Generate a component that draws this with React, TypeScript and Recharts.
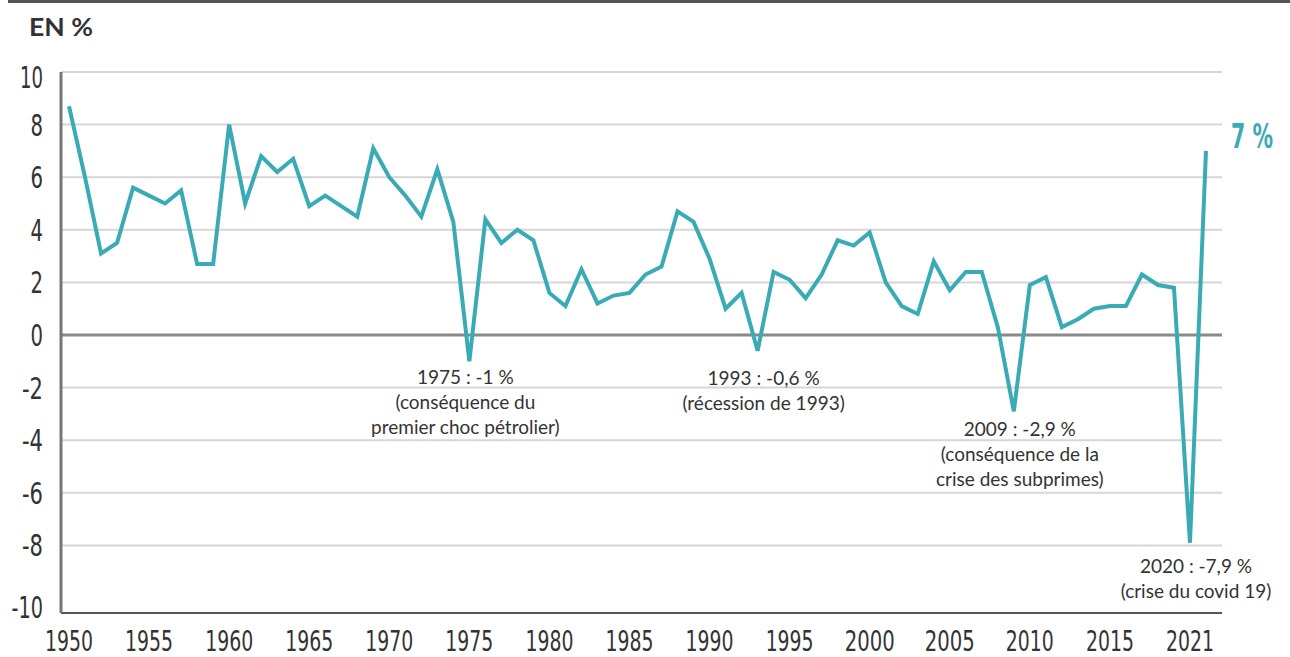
import React from 'react';
import { LineChart, Line, XAxis, YAxis, CartesianGrid, ReferenceLine, ReferenceDot } from 'recharts';

const years: number[] = [
  1950, 1951, 1952, 1953, 1954, 1955, 1956, 1957, 1958, 1959,
  1960, 1961, 1962, 1963, 1964, 1965, 1966, 1967, 1968, 1969,
  1970, 1971, 1972, 1973, 1974, 1975, 1976, 1977, 1978, 1979,
  1980, 1981, 1982, 1983, 1984, 1985, 1986, 1987, 1988, 1989,
  1990, 1991, 1992, 1993, 1994, 1995, 1996, 1997, 1998, 1999,
  2000, 2001, 2002, 2003, 2004, 2005, 2006, 2007, 2008, 2009,
  2010, 2011, 2012, 2013, 2014, 2015, 2016, 2017, 2018, 2019,
  2020, 2021,
];

const growth: number[] = [
  8.7, 6.0, 3.1, 3.5, 5.6, 5.3, 5.0, 5.5, 2.7, 2.7,
  8.0, 5.0, 6.8, 6.2, 6.7, 4.9, 5.3, 4.9, 4.5, 7.1,
  6.0, 5.3, 4.5, 6.3, 4.3, -1.0, 4.4, 3.5, 4.0, 3.6,
  1.6, 1.1, 2.5, 1.2, 1.5, 1.6, 2.3, 2.6, 4.7, 4.3,
  2.9, 1.0, 1.6, -0.6, 2.4, 2.1, 1.4, 2.3, 3.6, 3.4,
  3.9, 2.0, 1.1, 0.8, 2.8, 1.7, 2.4, 2.4, 0.3, -2.9,
  1.9, 2.2, 0.3, 0.6, 1.0, 1.1, 1.1, 2.3, 1.9, 1.8,
  -7.9, 7.0,
];

const xTicks: number[] = [1950, 1955, 1960, 1965, 1970, 1975, 1980, 1985, 1990, 1995, 2000, 2005, 2010, 2015, 2021];
const Y_MAX = 10;
const Y_MIN = -10.57;
const yTicks: number[] = [10, 8, 6, 4, 2, 0, -2, -4, -6, -8, Y_MIN];
const yTickLabels: string[] = ['10', '8', '6', '4', '2', '0', '-2', '-4', '-6', '-8', '-10'];

const lastYear = 2021;
const lastValue = 7.0;
const lastLabel = '7 %';

const annYears: number[] = [1975, 1993, 2009, 2020];
const annValues: number[] = [-1, -0.6, -2.9, -7.9];
const annTexts: string[][] = [
  ['1975 : -1 %', '(conséquence du', 'premier choc pétrolier)'],
  ['1993 : -0,6 %', '(récession de 1993)'],
  ['2009 : -2,9 %', '(conséquence de la', 'crise des subprimes)'],
  ['2020 : -7,9 %', '(crise du covid 19)'],
];
// layout offsets (px) of each annotation block relative to its point
const annOffsets: { dx: number; dy: number }[] = [
  { dx: -4, dy: 23 },
  { dx: 6, dy: 34 },
  { dx: 6, dy: 25 },
  { dx: 6, dy: 30 },
];

const data = years.map((y, i) => ({ year: y, v: growth[i] }));

const TEAL = '#3aabb5';
const TEXT = '#333333';
const TICK_FONT = "'Liberation Sans Narrow', 'DejaVu Sans Condensed', 'DejaVu Sans', sans-serif";
const ANN_FONT = "Lato, 'Noto Sans', sans-serif";

const labelWidth = (s: string) => {
  let w = 0;
  for (const c of s) {
    if (c === '1') w += 10.5;
    else if (c === '-') w += 8.5;
    else w += 12.5;
  }
  return w;
};

const YTick = (props: any) => {
  const { y, payload, index } = props;
  const v = payload.value;
  const i = yTicks.indexOf(v);
  const label = i >= 0 ? yTickLabels[i] : String(v);
  let dy = 11;
  if (v === Y_MAX) dy = 16;
  if (v === Y_MIN) dy = 5;
  return (
    <text
      key={index}
      x={43}
      y={y + dy}
      textAnchor="end"
      fontFamily={TICK_FONT}
      fontSize={30}
      fill={TEXT}
      textLength={labelWidth(label)}
      lengthAdjust="spacingAndGlyphs"
    >
      {label}
    </text>
  );
};

const XTick = (props: any) => {
  const { x, payload, index } = props;
  const v = payload.value;
  const label = String(v);
  const shift = v === 2021 ? -16 : 0;
  return (
    <text
      key={index}
      x={x + shift}
      y={651}
      textAnchor="middle"
      fontFamily={TICK_FONT}
      fontSize={29}
      fill={TEXT}
      textLength={labelWidth(label)}
      lengthAdjust="spacingAndGlyphs"
    >
      {label}
    </text>
  );
};

const makeAnnLabel = (lines: string[], dx: number, dy: number) => (props: any) => {
  const vb = props.viewBox || {};
  const cx = (vb.x ?? 0) + (vb.width ?? 0) / 2;
  const cy = (vb.y ?? 0) + (vb.height ?? 0) / 2;
  return (
    <text x={cx + dx} y={cy + dy} textAnchor="middle" fontFamily={ANN_FONT} fontSize={19} fill={TEXT}>
      {lines.map((l, k) => (
        <tspan key={k} x={cx + dx} dy={k === 0 ? 0 : 25}>
          {l}
        </tspan>
      ))}
    </text>
  );
};

const LastLabel = (props: any) => {
  const vb = props.viewBox || {};
  const cx = (vb.x ?? 0) + (vb.width ?? 0) / 2;
  const cy = (vb.y ?? 0) + (vb.height ?? 0) / 2;
  return (
    <text
      x={cx + 67}
      y={cy - 3}
      textAnchor="end"
      fontFamily={TICK_FONT}
      fontSize={33}
      fontWeight={600}
      fill={TEAL}
      textLength={42}
      lengthAdjust="spacingAndGlyphs"
    >
      {lastLabel}
    </text>
  );
};

export default function App() {
  return (
    <div style={{ position: 'absolute', left: 0, top: 0, width: 1290, height: 657, background: '#fff' }}>
      <svg width={1290} height={657} style={{ position: 'absolute', left: 0, top: 0 }}>
        <line x1={8} y1={1.5} x2={1290} y2={1.5} stroke="#555" strokeWidth={3} />
        <text
          x={29}
          y={36}
          fontFamily="Lato, 'Noto Sans', sans-serif"
          fontWeight={700}
          fontSize={24}
          fill={TEXT}
          textLength={64}
          lengthAdjust="spacingAndGlyphs"
        >
          EN %
        </text>
      </svg>
      <div style={{ position: 'absolute', left: 0, top: 0 }}>
        <LineChart width={1290} height={657} data={data} margin={{ top: 72, right: 68, left: 0, bottom: 0 }}>
          <CartesianGrid vertical={false} stroke="#d6d6d6" strokeWidth={2} />
          <XAxis
            dataKey="year"
            type="number"
            domain={[1949.5, 2021.5]}
            ticks={xTicks}
            interval={0}
            height={44}
            tickLine={false}
            tickSize={0}
            tick={<XTick />}
            axisLine={{ stroke: '#555', strokeWidth: 2 }}
            allowDecimals={false}
          />
          <YAxis
            type="number"
            domain={[Y_MIN, Y_MAX]}
            ticks={yTicks}
            interval={0}
            width={61}
            tickLine={false}
            tickSize={0}
            tick={<YTick />}
            axisLine={{ stroke: '#777', strokeWidth: 3 }}
            allowDataOverflow
          />
          <ReferenceLine y={0} stroke="#8a8a8a" strokeWidth={3} />
          <Line
            type="linear"
            dataKey="v"
            stroke={TEAL}
            strokeWidth={4}
            dot={false}
            activeDot={false}
            isAnimationActive={false}
          />
          {annYears.map((yr, i) => (
            <ReferenceDot
              key={yr}
              x={yr}
              y={annValues[i]}
              r={1}
              fill="none"
              stroke="none"
              label={makeAnnLabel(annTexts[i], annOffsets[i].dx, annOffsets[i].dy)}
            />
          ))}
          <ReferenceDot x={lastYear} y={lastValue} r={1} fill="none" stroke="none" label={LastLabel} />
        </LineChart>
      </div>
    </div>
  );
}
